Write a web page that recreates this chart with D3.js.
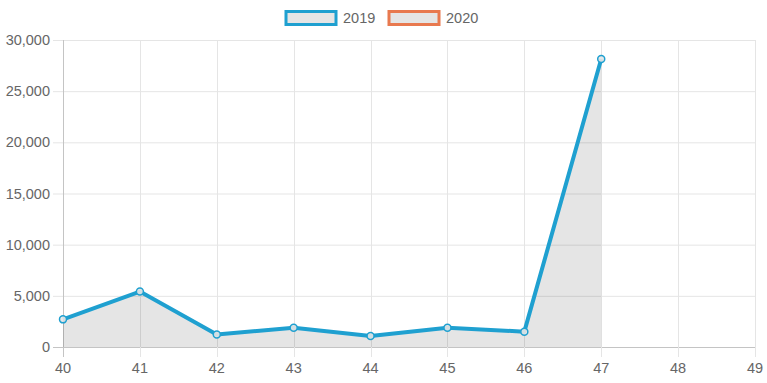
<!DOCTYPE html>
<html><head><meta charset="utf-8">
<script src="https://cdn.jsdelivr.net/npm/d3@7"></script>
<style>body{margin:0;background:#fff;}svg{display:block;font-family:"Liberation Sans",Arial,sans-serif;}</style>
</head><body>
<svg id="c" width="767" height="383"></svg>
<script>
const categories = [40,41,42,43,44,45,46,47,48,49];
const series2019 = [2700,5420,1230,1890,1080,1890,1500,28150];
const series2020 = [];
const seriesNames = ["2019","2020"];
const seriesColors = ["#1fa0d0","#e8794f"];
const yTicks = [0,5000,10000,15000,20000,25000,30000];

const svg = d3.select("#c");
const m = {l:63, r:12, t:40, b:36};
const W = 767, H = 383;
const x = d3.scaleLinear().domain([40,49]).range([m.l, W-m.r]);
const y = d3.scaleLinear().domain([0,30000]).range([H-m.b, m.t]);

const g = svg.append("g");
// horizontal grid
g.selectAll(".hg").data(yTicks).enter().append("line")
  .attr("x1", m.l-10).attr("x2", W-m.r)
  .attr("y1", d=>y(d)+0.5).attr("y2", d=>y(d)+0.5)
  .attr("stroke", d=> d===0 ? "#c4c4c4" : "#e5e5e5").attr("stroke-width",1);
// vertical grid
g.selectAll(".vg").data(categories).enter().append("line")
  .attr("x1", d=>Math.round(x(d))+0.5).attr("x2", d=>Math.round(x(d))+0.5)
  .attr("y1", m.t).attr("y2", H-m.b+10)
  .attr("stroke", d=> d===40 ? "#c4c4c4" : "#e5e5e5").attr("stroke-width",1);

// y labels
g.selectAll(".yl").data(yTicks).enter().append("text")
  .attr("x", m.l-13).attr("y", d=>y(d)).attr("dy","0.35em")
  .attr("text-anchor","end").attr("fill","#666").attr("font-size",14.5)
  .text(d=>d3.format(",")(d));
// x labels
g.selectAll(".xl").data(categories).enter().append("text")
  .attr("x", d=>x(d)).attr("y", H-m.b+21).attr("dy","0.35em")
  .attr("text-anchor","middle").attr("fill","#666").attr("font-size",14.5)
  .text(d=>d);

const pts = series2019.map((v,i)=>[categories[i], v]);
const curve = d3.curveLinear;
const area = d3.area().x(d=>x(d[0])).y0(y(0)).y1(d=>y(d[1])).curve(curve);
const line = d3.line().x(d=>x(d[0])).y(d=>y(d[1])).curve(curve);
g.append("path").attr("d", area(pts)).attr("fill","rgba(0,0,0,0.1)");
g.append("path").attr("d", line(pts)).attr("fill","none").attr("stroke",seriesColors[0])
  .attr("stroke-width",4).attr("stroke-linejoin","round");
g.selectAll(".pt").data(pts).enter().append("circle")
  .attr("cx", d=>x(d[0])).attr("cy", d=>y(d[1])).attr("r",3.5)
  .attr("fill","rgba(230,230,230,0.9)").attr("stroke",seriesColors[0]).attr("stroke-width",1.5);

// legend
const legX = [286, 389];
seriesNames.forEach((n,i)=>{
  svg.append("rect").attr("x",legX[i]).attr("y",11.5).attr("width",50).attr("height",13)
    .attr("fill","#e5e5e5").attr("stroke",seriesColors[i]).attr("stroke-width",3);
  svg.append("text").attr("x",legX[i]+57).attr("y",18).attr("dy","0.35em")
    .attr("fill","#666").attr("font-size",14.5).text(n);
});
</script>
</body></html>
